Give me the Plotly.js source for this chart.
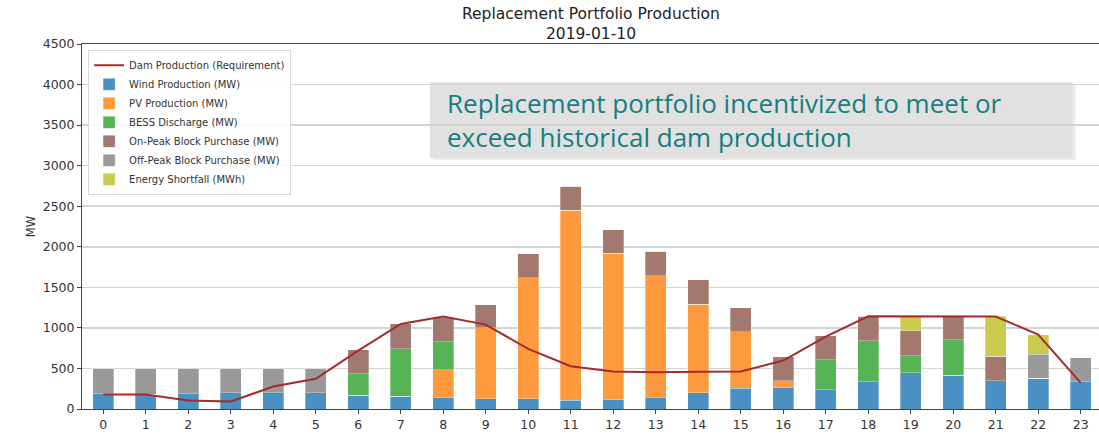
<!DOCTYPE html>
<html>
<head>
<meta charset="utf-8">
<script src="https://cdn.plot.ly/plotly-3.0.1.min.js"></script>
<style>html,body{margin:0;padding:0;background:#fff;}#chart{width:1099px;height:435px;}</style>
</head>
<body>
<div id="chart"></div>
<script>
const hours = [0,1,2,3,4,5,6,7,8,9,10,11,12,13,14,15,16,17,18,19,20,21,22,23];
const wind     = [187,180,187,200,200,200,172,158,142,129,129,105,117,142,200,256,268,240,339,446,417,351,380,335];
const pv       = [0,0,0,0,0,0,0,0,344,871,1487,2344,1802,1498,1091,695,83,0,0,0,0,0,0,0];
const bess     = [0,0,0,0,0,0,261,587,341,0,0,0,0,0,0,0,0,370,505,213,439,0,0,0];
const onPeak   = [0,0,0,0,0,0,300,304,304,287,299,300,292,304,300,299,296,295,299,308,287,300,0,0];
const offPeak  = [313,320,313,300,300,300,0,0,0,0,0,0,0,0,0,0,0,0,0,0,0,0,295,299];
const shortfall= [0,0,0,0,0,0,0,0,0,0,0,0,0,0,0,0,0,0,0,176,0,492,243,0];
const damLine  = [178,178,105,92,277,372,720,1049,1139,1040,741,527,462,453,458,462,597,893,1143,1143,1143,1140,918,323];

const names = {
  dam: "Dam Production (Requirement)",
  wind: "Wind Production (MW)",
  pv: "PV Production (MW)",
  bess: "BESS Discharge (MW)",
  on: "On-Peak Block Purchase (MW)",
  off: "Off-Peak Block Purchase (MW)",
  short: "Energy Shortfall (MWh)"
};
const chartTitle = "Replacement Portfolio Production<br>2019-01-10";
const noteText = "Replacement portfolio incentivized to meet or<br>exceed historical dam production";

function bar(y, name, color) {
  return {type: "bar", x: hours, y: y, name: name, width: 0.5,
    marker: {color: color, line: {color: "rgba(255,255,255,0.6)", width: 0.5}},
    hoverinfo: "x+y+name"};
}

const traces = [
  {type: "scatter", mode: "lines", x: hours, y: damLine, name: names.dam,
   line: {color: "#a52a2a", width: 2}},
  bar(wind, names.wind, "#4b90c3"),
  bar(pv, names.pv, "#ff993e"),
  bar(bess, names.bess, "#56b356"),
  bar(onPeak, names.on, "#a3786f"),
  bar(offPeak, names.off, "#999999"),
  bar(shortfall, names.short, "#c9ca4e")
];

const layout = {
  width: 1099, height: 435,
  margin: {l: 82, r: 0, t: 44, b: 26},
  paper_bgcolor: "#ffffff", plot_bgcolor: "#ffffff",
  barmode: "stack",
  font: {family: "DejaVu Sans", size: 12, color: "#333333"},
  xaxis: {range: [-0.5, 23.43], tickmode: "array", tickvals: hours, ticktext: hours.map(String),
    showgrid: false, zeroline: false, showline: true, mirror: true, linecolor: "#444444", linewidth: 1,
    ticks: "outside", ticklen: 4, tickcolor: "#444444",
    tickfont: {family: "DejaVu Sans", size: 12.5, color: "#333333"}},
  yaxis: {range: [0, 4500], tickmode: "array", tickvals: [0,500,1000,1500,2000,2500,3000,3500,4000,4500],
    showgrid: true, gridcolor: "#d4d4d4", gridwidth: 1.5, zeroline: false,
    showline: true, linecolor: "#444444", linewidth: 1,
    ticks: "outside", ticklen: 4, tickcolor: "#444444",
    tickfont: {family: "DejaVu Sans", size: 12.5, color: "#333333"},
    title: {text: "MW", font: {family: "DejaVu Sans", size: 11.5, color: "#333333"}, standoff: 4}},
  legend: {x: 0.006, y: 0.984, xanchor: "left", yanchor: "top", traceorder: "normal",
    bgcolor: "rgba(255,255,255,0.85)", bordercolor: "#d8d8d8", borderwidth: 1,
    font: {family: "DejaVu Sans", size: 10, color: "#333333"},
    itemwidth: 30, tracegroupgap: 0},
  shapes: [
    {type: "rect", xref: "paper", yref: "paper", x0: 0.345, x1: 0.977, y0: 0.682, y1: 0.890,
     fillcolor: "#ececec", line: {width: 0}, layer: "below"},
    {type: "rect", xref: "paper", yref: "paper", x0: 0.342, x1: 0.974, y0: 0.688, y1: 0.896,
     fillcolor: "#e1e1e1", line: {width: 0}, layer: "below"}
  ],
  annotations: [
    {xref: "paper", yref: "paper", x: 0.5, y: 1.056, xanchor: "center", yanchor: "middle",
     showarrow: false, text: chartTitle,
     font: {family: "DejaVu Sans", size: 15.5, color: "#222222"}},
    {xref: "paper", yref: "paper", x: 0.357, y: 0.793, xanchor: "left", yanchor: "middle", align: "left",
     showarrow: false, text: noteText,
     font: {family: "Open Sans", size: 26, color: "#157f80"}}
  ],
  showlegend: true
};

Plotly.newPlot("chart", traces, layout, {displayModeBar: false, staticPlot: true});
</script>
</body>
</html>
